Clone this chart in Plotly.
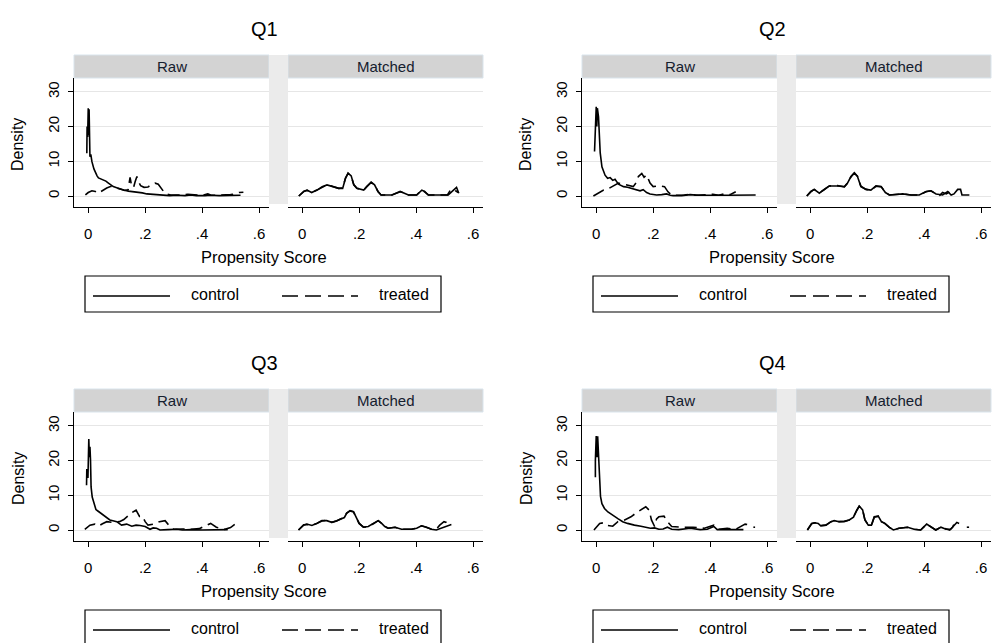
import plotly.graph_objects as go

# ---------------- data ----------------
quarters = ["Q1", "Q2", "Q3", "Q4"]
panels = ["Raw", "Matched"]
groups = ["control", "treated"]
x_tickvals = [0, 0.2, 0.4, 0.6]
x_ticktext = ["0", ".2", ".4", ".6"]
y_tickvals = [0, 10, 20, 30]

# Q1
q1_raw_ctl_x = [-0.005, -0.004, -0.002, 0.0, 0.002, 0.003, 0.005, 0.006, 0.009, 0.013, 0.02, 0.025, 0.031, 0.036, 0.045, 0.053, 0.062, 0.071, 0.08, 0.088, 0.1, 0.112, 0.125, 0.141, 0.155, 0.171, 0.19, 0.206, 0.22, 0.24, 0.26, 0.286, 0.31, 0.34, 0.36, 0.38, 0.41, 0.43, 0.46, 0.49, 0.51, 0.525, 0.535]
q1_raw_ctl_y = [12.3, 20.0, 17.0, 25.3, 17.5, 25.0, 16.5, 11.3, 12.0, 9.9, 7.8, 6.6, 5.8, 5.2, 4.9, 4.6, 4.3, 3.7, 3.2, 2.7, 2.4, 2.0, 1.7, 1.4, 1.3, 1.1, 0.9, 0.6, 0.5, 0.3, 0.2, 0.1, 0.2, 0.1, 0.3, 0.1, 0.1, 0.2, 0.1, 0.1, 0.2, 0.1, 0.2]
q1_raw_trt_x = [-0.01, 0.0, 0.013, 0.025, 0.035, 0.05, 0.065, 0.08, 0.095, 0.112, 0.128, 0.14, 0.147, 0.152, 0.159, 0.165, 0.171, 0.177, 0.184, 0.196, 0.21, 0.225, 0.235, 0.246, 0.258, 0.27, 0.29, 0.31, 0.33, 0.35, 0.36, 0.38, 0.4, 0.42, 0.43, 0.45, 0.48, 0.5, 0.515, 0.53, 0.545]
q1_raw_trt_y = [0.3, 1.0, 1.5, 1.3, 0.8, 1.6, 2.3, 2.8, 2.4, 2.1, 1.6, 1.8, 5.4, 3.0, 2.4, 4.2, 5.6, 4.0, 3.0, 2.5, 2.6, 3.4, 3.7, 3.4, 2.1, 0.7, 0.3, 0.2, 0.3, 0.5, 0.4, 0.2, 0.2, 0.6, 0.3, 0.2, 0.2, 0.4, 0.6, 1.0, 1.1]
q1_mat_ctl_x = [-0.012, 0.006, 0.017, 0.033, 0.052, 0.07, 0.087, 0.105, 0.128, 0.142, 0.152, 0.161, 0.172, 0.181, 0.192, 0.216, 0.227, 0.242, 0.254, 0.266, 0.277, 0.315, 0.344, 0.361, 0.373, 0.402, 0.42, 0.43, 0.443, 0.513, 0.524, 0.536, 0.542, 0.55]
q1_mat_ctl_y = [0.0, 1.3, 1.7, 1.0, 1.7, 2.7, 3.2, 2.7, 2.2, 2.2, 5.1, 6.6, 5.8, 3.2, 2.2, 1.7, 2.7, 4.0, 3.2, 1.3, 0.3, 0.3, 1.3, 0.8, 0.3, 0.3, 1.7, 1.3, 0.3, 0.3, 1.1, 2.0, 2.5, 0.8]
q1_mat_trt_x = [-0.012, 0.006, 0.017, 0.033, 0.052, 0.07, 0.087, 0.105, 0.128, 0.142, 0.152, 0.161, 0.172, 0.181, 0.192, 0.216, 0.227, 0.242, 0.254, 0.266, 0.277, 0.315, 0.344, 0.361, 0.373, 0.402, 0.42, 0.43, 0.443, 0.51, 0.52, 0.53, 0.54, 0.548]
q1_mat_trt_y = [0.0, 1.4, 1.6, 1.1, 1.7, 2.6, 3.2, 2.8, 2.2, 2.3, 5.2, 6.5, 5.7, 3.3, 2.2, 1.7, 2.8, 3.9, 3.2, 1.3, 0.3, 0.3, 1.2, 0.8, 0.3, 0.3, 1.7, 1.2, 0.3, 0.3, 1.6, 2.0, 1.3, 1.0]

# Q2
q2_raw_ctl_x = [-0.006, -0.005, -0.002, 0.0, 0.002, 0.004, 0.008, 0.014, 0.02, 0.031, 0.04, 0.049, 0.058, 0.066, 0.078, 0.09, 0.096, 0.11, 0.125, 0.14, 0.154, 0.165, 0.177, 0.189, 0.2, 0.212, 0.23, 0.247, 0.26, 0.27, 0.3, 0.33, 0.36, 0.4, 0.43, 0.46, 0.5, 0.53, 0.56]
q2_raw_ctl_y = [12.8, 16.0, 18.0, 25.7, 20.0, 25.3, 22.8, 12.4, 8.4, 6.0, 5.1, 5.3, 4.5, 4.8, 3.4, 2.9, 2.7, 2.5, 2.2, 1.9, 1.5, 1.8, 1.0, 0.6, 0.5, 0.3, 0.4, 0.6, 0.2, 0.1, 0.1, 0.4, 0.2, 0.3, 0.2, 0.2, 0.3, 0.2, 0.3]
q2_raw_trt_x = [-0.01, 0.008, 0.026, 0.038, 0.055, 0.078, 0.096, 0.115, 0.13, 0.14, 0.148, 0.16, 0.168, 0.177, 0.189, 0.2, 0.22, 0.24, 0.252, 0.264, 0.28, 0.31, 0.33, 0.35, 0.38, 0.41, 0.43, 0.45, 0.47, 0.49]
q2_raw_trt_y = [0.0, 0.8, 1.7, 1.9, 2.7, 3.7, 3.4, 3.0, 2.7, 3.8, 5.6, 6.5, 5.4, 6.1, 3.7, 2.7, 2.9, 2.7, 1.2, 0.3, 0.2, 0.3, 0.5, 0.2, 0.3, 0.5, 0.2, 0.6, 0.4, 1.2]
q2_mat_ctl_x = [-0.012, 0.002, 0.014, 0.032, 0.049, 0.067, 0.096, 0.12, 0.131, 0.143, 0.155, 0.166, 0.178, 0.196, 0.213, 0.231, 0.249, 0.264, 0.278, 0.325, 0.354, 0.383, 0.407, 0.424, 0.442, 0.465, 0.483, 0.495, 0.505, 0.518, 0.528, 0.533, 0.559]
q2_mat_ctl_y = [0.0, 1.3, 1.9, 0.8, 1.9, 2.9, 2.9, 2.7, 3.7, 5.6, 6.7, 5.6, 2.7, 1.9, 1.7, 2.9, 2.7, 1.0, 0.3, 0.6, 0.3, 0.3, 1.3, 1.5, 0.6, 0.3, 1.3, 0.3, 0.6, 1.9, 1.9, 0.3, 0.3]
q2_mat_trt_x = [-0.012, 0.002, 0.014, 0.032, 0.049, 0.067, 0.096, 0.12, 0.131, 0.143, 0.155, 0.166, 0.178, 0.196, 0.213, 0.231, 0.249, 0.264, 0.278, 0.325, 0.354, 0.383, 0.407, 0.424, 0.442, 0.455, 0.465, 0.478, 0.49, 0.502]
q2_mat_trt_y = [0.0, 1.2, 1.9, 0.9, 1.8, 2.9, 3.0, 2.6, 3.7, 5.5, 6.6, 5.7, 2.8, 1.9, 1.7, 2.8, 2.7, 1.1, 0.3, 0.6, 0.3, 0.3, 1.2, 1.5, 0.6, 0.2, 1.0, 0.6, 1.2, 0.4]

# Q3
q3_raw_ctl_x = [-0.006, -0.005, -0.001, 0.002, 0.004, 0.006, 0.008, 0.01, 0.014, 0.018, 0.027, 0.035, 0.041, 0.05, 0.059, 0.068, 0.076, 0.09, 0.1, 0.117, 0.135, 0.153, 0.168, 0.182, 0.2, 0.217, 0.228, 0.24, 0.252, 0.28, 0.31, 0.33, 0.36, 0.4, 0.43, 0.46, 0.49]
q3_raw_ctl_y = [12.9, 17.6, 15.0, 26.2, 21.0, 24.0, 20.2, 12.4, 9.5, 8.1, 5.9, 5.4, 5.0, 4.4, 3.8, 3.4, 2.9, 2.6, 2.4, 1.4, 1.7, 1.1, 1.4, 1.3, 1.0, 0.2, 0.6, 0.5, 0.0, 0.1, 0.2, 0.0, 0.1, 0.0, 0.1, 0.0, 0.1]
q3_raw_trt_x = [-0.012, 0.006, 0.023, 0.035, 0.05, 0.065, 0.085, 0.11, 0.125, 0.135, 0.153, 0.168, 0.18, 0.19, 0.2, 0.21, 0.23, 0.25, 0.27, 0.28, 0.3, 0.33, 0.36, 0.39, 0.405, 0.43, 0.45, 0.48, 0.5, 0.516]
q3_raw_trt_y = [0.2, 1.4, 1.7, 1.1, 1.8, 2.4, 2.2, 2.4, 3.0, 3.8, 5.0, 5.7, 3.9, 4.0, 2.4, 1.4, 1.7, 2.4, 2.7, 1.7, 0.2, 0.3, 0.2, 0.4, 1.0, 1.9, 0.8, 0.2, 0.7, 1.7]
q3_mat_ctl_x = [-0.013, 0.005, 0.016, 0.034, 0.051, 0.069, 0.086, 0.104, 0.121, 0.133, 0.148, 0.156, 0.168, 0.18, 0.188, 0.2, 0.215, 0.232, 0.25, 0.267, 0.279, 0.29, 0.302, 0.326, 0.349, 0.384, 0.402, 0.419, 0.436, 0.454, 0.471, 0.489, 0.5, 0.512, 0.524]
q3_mat_ctl_y = [0.0, 1.4, 1.7, 1.3, 1.9, 2.7, 2.7, 2.2, 2.7, 3.1, 3.6, 4.8, 5.6, 5.3, 3.8, 1.9, 0.8, 1.0, 1.9, 2.7, 1.9, 1.0, 0.5, 0.8, 0.2, 0.2, 0.5, 1.2, 0.8, 0.2, 0.0, 0.5, 1.0, 1.3, 1.6]
q3_mat_trt_x = [-0.013, 0.005, 0.016, 0.034, 0.051, 0.069, 0.086, 0.104, 0.121, 0.133, 0.148, 0.156, 0.168, 0.18, 0.188, 0.2, 0.215, 0.232, 0.25, 0.267, 0.279, 0.29, 0.302, 0.326, 0.349, 0.384, 0.402, 0.419, 0.436, 0.454, 0.471, 0.483, 0.498, 0.506, 0.512]
q3_mat_trt_y = [0.0, 1.5, 1.6, 1.3, 1.9, 2.6, 2.8, 2.2, 2.6, 3.1, 3.7, 4.9, 5.5, 5.2, 3.9, 1.9, 0.8, 1.0, 1.8, 2.7, 1.9, 1.0, 0.5, 0.8, 0.2, 0.2, 0.5, 1.2, 0.8, 0.2, 0.2, 1.4, 2.4, 2.2, 1.2]

# Q4
q4_raw_ctl_x = [-0.003, -0.003, 0.0, 0.003, 0.005, 0.008, 0.012, 0.015, 0.02, 0.029, 0.041, 0.05, 0.058, 0.067, 0.076, 0.093, 0.11, 0.122, 0.134, 0.157, 0.175, 0.19, 0.205, 0.22, 0.235, 0.25, 0.265, 0.29, 0.33, 0.365, 0.39, 0.413, 0.425, 0.46, 0.49, 0.517]
q4_raw_ctl_y = [15.2, 20.0, 27.1, 21.0, 27.0, 20.5, 10.5, 9.7, 7.6, 6.2, 5.2, 4.8, 4.3, 3.8, 3.3, 2.4, 1.9, 1.6, 1.4, 1.1, 0.8, 0.5, 0.6, 0.2, 0.3, 0.8, 0.2, 0.1, 0.5, 0.1, 0.2, 1.0, 0.1, 0.0, 0.1, 0.1]
q4_raw_trt_x = [-0.008, 0.012, 0.027, 0.04, 0.058, 0.076, 0.1, 0.122, 0.145, 0.165, 0.174, 0.186, 0.194, 0.205, 0.212, 0.22, 0.238, 0.25, 0.265, 0.3, 0.34, 0.38, 0.413, 0.43, 0.46, 0.49, 0.508, 0.523, 0.535, None, 0.552, 0.558]
q4_raw_trt_y = [0.0, 1.9, 2.1, 1.3, 1.1, 2.4, 2.9, 3.8, 5.2, 6.3, 6.7, 5.7, 2.9, 1.0, 3.2, 3.8, 4.0, 2.4, 1.0, 0.8, 0.8, 0.5, 1.4, 0.2, 0.5, 0.2, 1.0, 1.7, 1.5, None, 0.8, 0.8]
q4_mat_ctl_x = [-0.01, 0.005, 0.016, 0.028, 0.037, 0.055, 0.073, 0.084, 0.102, 0.119, 0.137, 0.152, 0.164, 0.172, 0.184, 0.192, 0.204, 0.215, 0.225, 0.239, 0.25, 0.262, 0.277, 0.292, 0.312, 0.342, 0.365, 0.388, 0.409, 0.423, 0.441, 0.459, 0.477, 0.493, 0.505, 0.515, 0.523]
q4_mat_ctl_y = [0.0, 1.9, 2.1, 1.9, 1.2, 1.4, 2.4, 2.7, 2.4, 2.4, 2.9, 3.7, 5.8, 6.9, 5.8, 2.9, 1.4, 1.4, 3.8, 4.0, 2.4, 1.9, 0.8, 0.0, 0.5, 0.8, 0.2, 0.0, 1.7, 1.0, 0.0, 0.8, 0.2, 0.2, 1.4, 2.2, 1.9]
q4_mat_trt_x = [-0.01, 0.005, 0.016, 0.028, 0.037, 0.055, 0.073, 0.084, 0.102, 0.119, 0.137, 0.152, 0.164, 0.172, 0.184, 0.192, 0.204, 0.215, 0.225, 0.239, 0.25, 0.262, 0.277, 0.292, 0.312, 0.342, 0.365, 0.388, 0.409, 0.423, 0.441, 0.459, 0.477, 0.49, 0.5, 0.508, 0.516, None, 0.55, 0.558]
q4_mat_trt_y = [0.0, 1.8, 2.1, 1.9, 1.3, 1.4, 2.4, 2.6, 2.4, 2.5, 2.9, 3.8, 5.7, 6.8, 5.8, 3.0, 1.4, 1.4, 3.7, 4.0, 2.4, 1.9, 0.8, 0.0, 0.5, 0.8, 0.2, 0.0, 1.7, 1.0, 0.0, 0.8, 0.2, 0.0, 0.8, 2.1, 2.1, None, 0.8, 0.8]

series = {
    "Q1": [[(q1_raw_ctl_x, q1_raw_ctl_y), (q1_raw_trt_x, q1_raw_trt_y)],
           [(q1_mat_ctl_x, q1_mat_ctl_y), (q1_mat_trt_x, q1_mat_trt_y)]],
    "Q2": [[(q2_raw_ctl_x, q2_raw_ctl_y), (q2_raw_trt_x, q2_raw_trt_y)],
           [(q2_mat_ctl_x, q2_mat_ctl_y), (q2_mat_trt_x, q2_mat_trt_y)]],
    "Q3": [[(q3_raw_ctl_x, q3_raw_ctl_y), (q3_raw_trt_x, q3_raw_trt_y)],
           [(q3_mat_ctl_x, q3_mat_ctl_y), (q3_mat_trt_x, q3_mat_trt_y)]],
    "Q4": [[(q4_raw_ctl_x, q4_raw_ctl_y), (q4_raw_trt_x, q4_raw_trt_y)],
           [(q4_mat_ctl_x, q4_mat_ctl_y), (q4_mat_trt_x, q4_mat_trt_y)]],
}

# ---------------- layout geometry (pixels) ----------------
W, H = 993, 643
FONT = "Liberation Sans, Arial, sans-serif"
DASH_CURVE = "12px,6px"
DASH_LEGEND = "16px,7px"
offsets = [(0, 0), (508, 0), (0, 334), (508, 334)]
panel_x = [(74, 269), (288, 483)]
plot_y = (78, 207)
strip_y = (55, 78)


def fx(px):
    return px / W


def fy(py):
    return 1 - py / H


fig = go.Figure()
layout = dict(
    width=W, height=H, margin=dict(l=0, r=0, t=0, b=0),
    paper_bgcolor="white", plot_bgcolor="white", showlegend=False,
    font=dict(family=FONT, color="black"),
)
shapes = []
annotations = []

for qi, q in enumerate(quarters):
    dx, dy = offsets[qi]
    for pi, pname in enumerate(panels):
        idx = qi * 2 + pi + 1
        sfx = "" if idx == 1 else str(idx)
        x0, x1 = panel_x[pi]
        layout["xaxis" + sfx] = dict(
            domain=[fx(x0 + dx), fx(x1 + dx)], anchor="y" + sfx,
            range=[-0.05, 0.635], tickvals=x_tickvals, ticktext=x_ticktext,
            ticks="outside", ticklen=5, tickwidth=1.2, tickcolor="black",
            showline=True, linecolor="black", linewidth=1.3,
            showgrid=False, zeroline=False, ticklabelstandoff=8,
            tickfont=dict(size=15, family=FONT, color="black"), fixedrange=True,
        )
        layout["yaxis" + sfx] = dict(
            domain=[fy(plot_y[1] + dy), fy(plot_y[0] + dy)], anchor="x" + sfx,
            range=[-3.17, 34.0], tickvals=y_tickvals, tickangle=-90,
            ticks="outside" if pi == 0 else "", ticklen=5, tickwidth=1.2,
            tickcolor="black", showticklabels=(pi == 0),
            showline=(pi == 0), linecolor="black", linewidth=1.3,
            showgrid=True, gridcolor="#e6e6e6", gridwidth=1,
            zeroline=False, ticklabelstandoff=3,
            tickfont=dict(size=15, family=FONT, color="black"), fixedrange=True,
        )
        for gi, g in enumerate(groups):
            xs, ys = series[q][pi][gi]
            fig.add_trace(go.Scatter(
                x=xs, y=ys, mode="lines", name=g,
                xaxis="x" + sfx, yaxis="y" + sfx,
                line=dict(color="black", width=1.6,
                          dash="solid" if gi == 0 else DASH_CURVE),
                connectgaps=False, hoverinfo="skip",
            ))
        # strip
        shapes.append(dict(type="rect", xref="paper", yref="paper",
                           x0=fx(x0 + dx), x1=fx(x1 + dx),
                           y0=fy(strip_y[1] + dy), y1=fy(strip_y[0] + dy),
                           fillcolor="#d3d3d3", line=dict(color="#d9e4ec", width=1),
                           layer="below"))
        annotations.append(dict(text=pname, xref="paper", yref="paper",
                                x=fx((x0 + x1) / 2 + dx), y=fy(66.5 + dy),
                                showarrow=False, xanchor="center", yanchor="middle",
                                font=dict(size=15, family=FONT, color="#15202e")))
    # gap between panels
    shapes.append(dict(type="rect", xref="paper", yref="paper",
                       x0=fx(269 + dx), x1=fx(288 + dx),
                       y0=fy(204 + dy), y1=fy(55 + dy),
                       fillcolor="#ebebeb", line=dict(width=0), layer="below"))
    # titles
    annotations.append(dict(text=q, xref="paper", yref="paper",
                            x=fx(264 + dx), y=fy(29 + dy), showarrow=False,
                            xanchor="center", yanchor="middle",
                            font=dict(size=20, family=FONT, color="black")))
    annotations.append(dict(text="Density", xref="paper", yref="paper",
                            x=fx(18 + dx), y=fy(145 + dy), showarrow=False,
                            textangle=-90, xanchor="center", yanchor="middle",
                            font=dict(size=16, family=FONT, color="black")))
    annotations.append(dict(text="Propensity Score", xref="paper", yref="paper",
                            x=fx(264 + dx), y=fy(257 + dy), showarrow=False,
                            xanchor="center", yanchor="middle",
                            font=dict(size=16.5, family=FONT, color="black")))
    # legend
    shapes.append(dict(type="rect", xref="paper", yref="paper",
                       x0=fx(85 + dx), x1=fx(441 + dx),
                       y0=fy(312 + dy), y1=fy(276 + dy),
                       fillcolor="white", line=dict(color="black", width=1.2)))
    shapes.append(dict(type="line", xref="paper", yref="paper",
                       x0=fx(93 + dx), x1=fx(170 + dx),
                       y0=fy(296 + dy), y1=fy(296 + dy),
                       line=dict(color="black", width=1.5)))
    shapes.append(dict(type="line", xref="paper", yref="paper",
                       x0=fx(282 + dx), x1=fx(358 + dx),
                       y0=fy(296 + dy), y1=fy(296 + dy),
                       line=dict(color="black", width=1.5, dash=DASH_LEGEND)))
    annotations.append(dict(text=groups[0], xref="paper", yref="paper",
                            x=fx(215 + dx), y=fy(294 + dy), showarrow=False,
                            xanchor="center", yanchor="middle",
                            font=dict(size=16, family=FONT, color="black")))
    annotations.append(dict(text=groups[1], xref="paper", yref="paper",
                            x=fx(404 + dx), y=fy(294 + dy), showarrow=False,
                            xanchor="center", yanchor="middle",
                            font=dict(size=16, family=FONT, color="black")))

layout["shapes"] = shapes
layout["annotations"] = annotations
fig.update_layout(**layout)
fig.write_html("out.html", config={"displayModeBar": False},
               post_script="document.body.style.margin='0';document.body.style.padding='0';")
